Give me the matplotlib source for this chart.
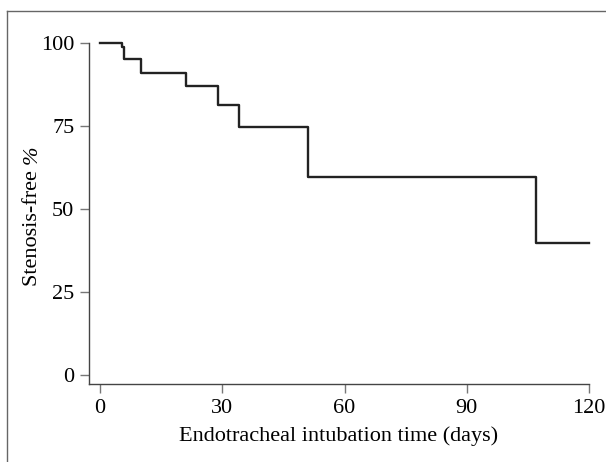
import matplotlib
matplotlib.use("Agg")
import matplotlib.pyplot as plt
from matplotlib.lines import Line2D

# Kaplan-Meier step points (event times in days, survival %)
times = [0, 5.3, 6, 10, 21, 29, 34, 51, 107, 120]
surv = [100, 98.6, 95.0, 91.0, 87.0, 81.3, 74.5, 59.6, 39.8, 39.8]
xticks = [0, 30, 60, 90, 120]
yticks = [0, 25, 50, 75, 100]

plt.rcParams['font.family'] = ['Liberation Serif', 'DejaVu Serif']

W, H = 606, 462
fig = plt.figure(figsize=(W / 100, H / 100), dpi=100)
ax = fig.add_axes([89 / W, 1 - 384 / H, (589 - 89) / W, (384 - 42.7) / H])

ax.step(times, surv, where='post', color='#222222', lw=1.7, clip_on=False)

ax.set_xlim(-2.7, 120)
ax.set_ylim(-2.7, 100)
ax.set_xticks(xticks)
ax.set_yticks(yticks)
ax.tick_params(labelsize=16, length=6.5, width=1, color='#777777', pad=4)
for s in ['top', 'right']:
    ax.spines[s].set_visible(False)
for s in ['left', 'bottom']:
    ax.spines[s].set_color('#444444')
    ax.spines[s].set_linewidth(1)

ax.set_xlabel('Endotracheal intubation time (days)', fontsize=16, labelpad=6)

# y label: upright text followed by an italic percent sign
t1 = fig.text(37 / W, 1 - 286 / H, 'Stenosis-free ', fontsize=16, rotation=90,
              rotation_mode='anchor', ha='left', va='baseline')
fig.canvas.draw()
bb = t1.get_window_extent()
fig.text(37 / W, bb.y1 / fig.bbox.height, '%', fontsize=16, style='italic',
         rotation=90, rotation_mode='anchor', ha='left', va='baseline')

# outer frame lines (left and top only visible)
fig.add_artist(Line2D([6.5 / W, 6.5 / W], [0, 1 - 11 / H], transform=fig.transFigure, color='#666666', lw=1))
fig.add_artist(Line2D([6.5 / W, 1], [1 - 11 / H, 1 - 11 / H], transform=fig.transFigure, color='#666666', lw=1))

fig.savefig('out.png', dpi=100)
